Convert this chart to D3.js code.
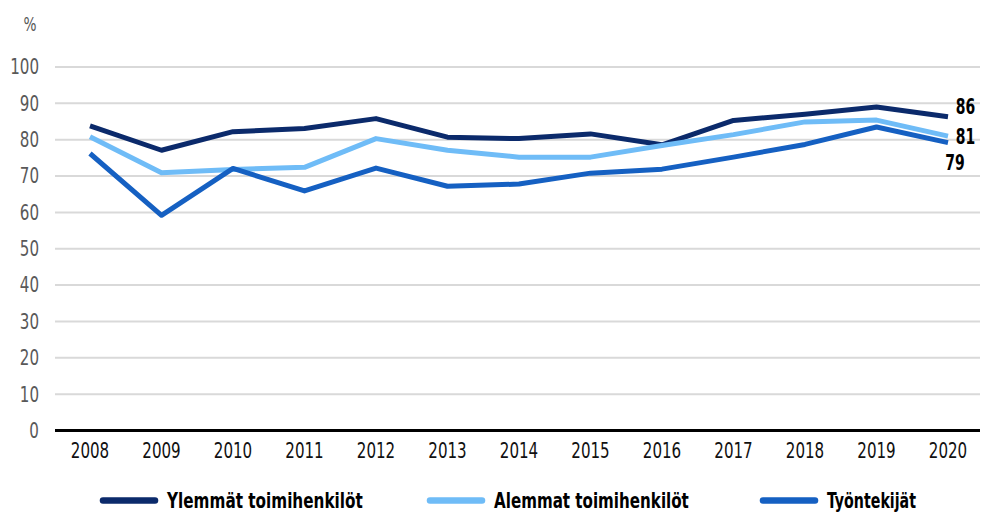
<!DOCTYPE html>
<html>
<head>
<meta charset="utf-8">
<script src="https://d3js.org/d3.v7.min.js"></script>
<style>
  body { margin: 0; background: #fff; }
  text { font-family: "DejaVu Sans", sans-serif; font-stretch: condensed; }
</style>
</head>
<body>
<script>
// data
var years = ["2008","2009","2010","2011","2012","2013","2014","2015","2016","2017","2018","2019","2020"];
var ylemmat = [83.8, 77.1, 82.2, 83.1, 85.8, 80.7, 80.3, 81.6, 78.6, 85.3, 87.0, 89.0, 86.3];
var alemmat = [80.8, 70.9, 71.8, 72.4, 80.3, 77.1, 75.2, 75.2, 78.4, 81.4, 84.9, 85.4, 81.0];
var tyontekijat = [76.2, 59.2, 72.1, 65.9, 72.2, 67.2, 67.8, 70.8, 71.9, 75.2, 78.7, 83.5, 79.2];
var seriesNames = ["Ylemmät toimihenkilöt", "Alemmat toimihenkilöt", "Työntekijät"];
var endLabels = ["86", "81", "79"];
var yTicks = [0,10,20,30,40,50,60,70,80,90,100];

var colors = ["#0b2a6b", "#6fbcf7", "#1560c2"];
var seriesData = [ylemmat, alemmat, tyontekijat];

var W = 984, H = 514;
var svg = d3.select("body").append("svg").attr("width", W).attr("height", H);

var x = d3.scalePoint().domain(years).range([90, 948]);
var y = d3.scaleLinear().domain([0, 100]).range([430.5, 67]);

// squeezed text, the original uses a narrow font
function narrow(sel, px, py, sx) {
  return sel.attr("transform", "translate(" + px + "," + py + ") scale(" + sx + ",1)");
}

// gridlines
svg.append("g").selectAll("line")
  .data(yTicks.filter(function (d) { return d > 0; }))
  .enter().append("line")
    .attr("x1", 55).attr("x2", 980)
    .attr("y1", function (d) { return y(d); })
    .attr("y2", function (d) { return y(d); })
    .attr("stroke", "#d9d9d9").attr("stroke-width", 2);

// y labels
yTicks.forEach(function (d) {
  narrow(svg.append("text"), 39, y(d), 0.82)
    .attr("dy", "0.36em").attr("text-anchor", "end")
    .attr("fill", "#595959").style("font-size", "20.5px")
    .text(d);
});

narrow(svg.append("text"), 30, 24, 0.8).attr("dy", "0.36em")
  .attr("text-anchor", "middle")
  .attr("fill", "#595959").style("font-size", "19px").text("%");

// x axis
svg.append("line").attr("x1", 55).attr("x2", 980)
  .attr("y1", y(0)).attr("y2", y(0))
  .attr("stroke", "#000").attr("stroke-width", 3);

years.forEach(function (d) {
  narrow(svg.append("text"), x(d), 451, 0.82)
    .attr("dy", "0.36em").attr("text-anchor", "middle")
    .attr("fill", "#111").style("font-size", "20.5px")
    .text(d);
});

// lines
var line = d3.line()
  .x(function (d, i) { return x(years[i]); })
  .y(function (d) { return y(d); });

seriesData.forEach(function (s, k) {
  svg.append("path").datum(s)
    .attr("d", line).attr("fill", "none")
    .attr("stroke", colors[k]).attr("stroke-width", 5)
    .attr("stroke-linejoin", "round");
});

// end labels
var lx = x(years[years.length - 1]);
var endPos = [[lx + 17.5, y(ylemmat[12]) - 10], [lx + 17.5, y(alemmat[12]) + 0.7], [lx + 7, y(tyontekijat[12]) + 19.5]];
endLabels.forEach(function (t, k) {
  narrow(svg.append("text"), endPos[k][0], endPos[k][1], 0.74)
    .attr("dy", "0.36em").attr("text-anchor", "middle")
    .attr("fill", "#000").style("font-size", "21px").style("font-weight", "bold")
    .text(t);
});

// legend
var legX = [100, 427, 760];
var legW = [196, 195, 89];
seriesNames.forEach(function (n, k) {
  var g = svg.append("g").attr("transform", "translate(" + legX[k] + ",500.5)");
  g.append("line").attr("x1", 3).attr("x2", 55).attr("y1", 0).attr("y2", 0)
    .attr("stroke", colors[k]).attr("stroke-width", 6.5).attr("stroke-linecap", "round");
  var t = g.append("text").attr("dy", "0.36em")
    .attr("fill", "#000").style("font-size", "20.5px").style("font-weight", "bold")
    .text(n);
  var w = t.node().getComputedTextLength();
  narrow(t, 67, 0, legW[k] / w);
});
</script>
</body>
</html>
